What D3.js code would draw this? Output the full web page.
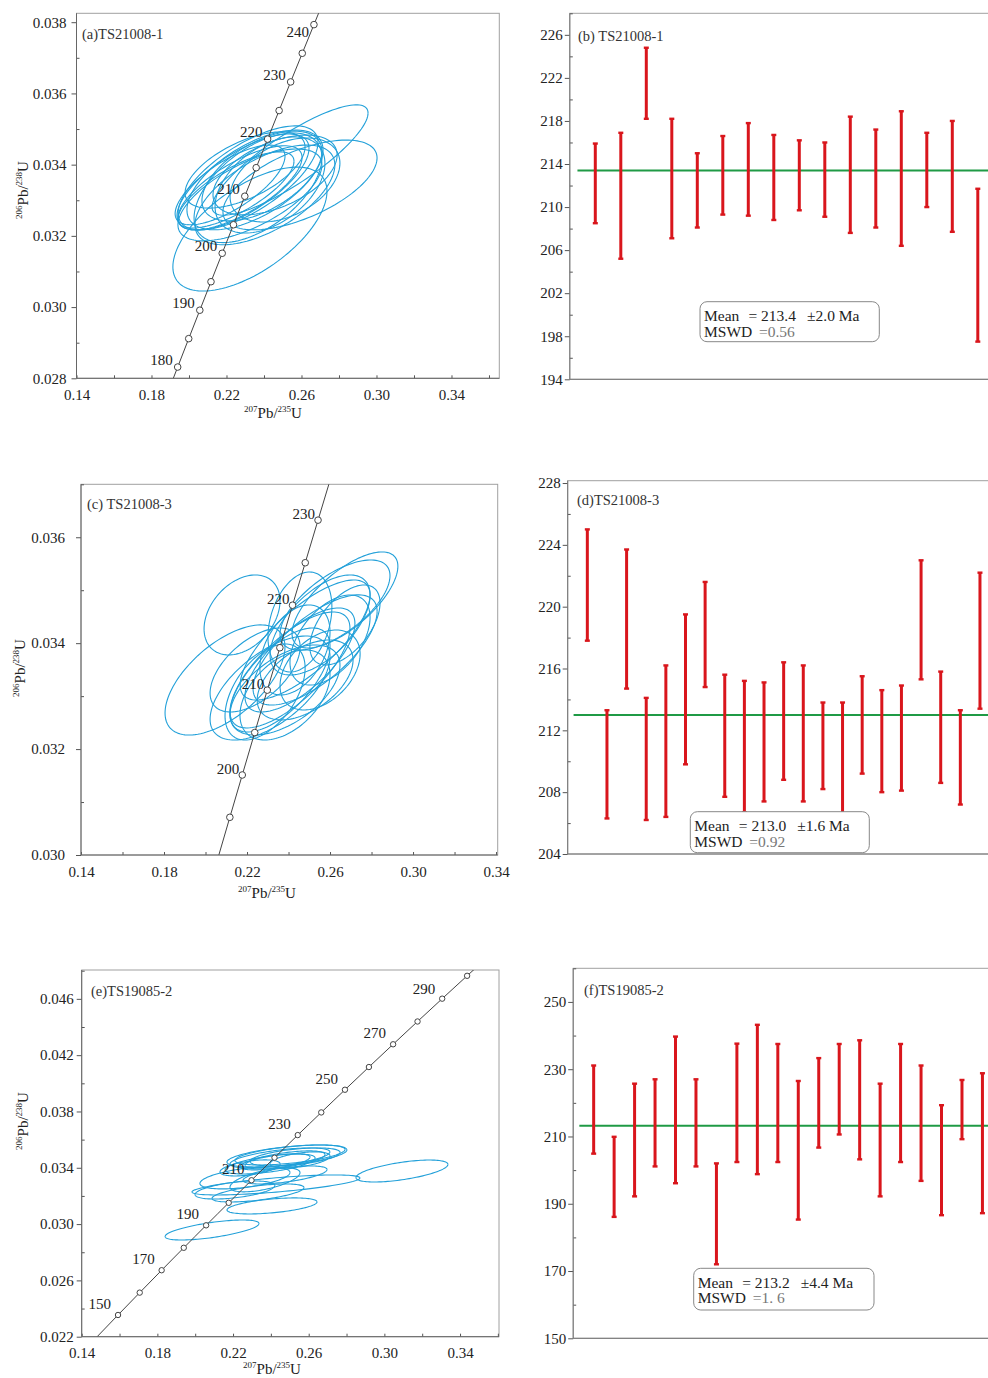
<!DOCTYPE html>
<html>
<head>
<meta charset="utf-8">
<script src="https://cdn.jsdelivr.net/npm/d3@7"></script>
<style>
  body { margin: 0; background: #fff; }
  svg { display: block; }
</style>
</head>
<body>
<svg id="chart" width="988" height="1378"></svg>
<script>
// ---------- data ----------
// concordia reference points (age in Ma, 207Pb/235U, 206Pb/238U)
const concAges = [140, 150, 160, 170, 175, 180, 185, 190, 195, 200, 205, 210, 215, 220, 225, 230, 235, 240, 245, 250, 260, 270, 280, 290, 300, 310];
const concX = [0.14784, 0.15920, 0.17067, 0.18226, 0.18809, 0.19396, 0.19985, 0.20577, 0.21173, 0.21771, 0.22372, 0.22976, 0.23583, 0.24193, 0.24806, 0.25422, 0.26041, 0.26664, 0.27289, 0.27917, 0.29183, 0.30462, 0.31753, 0.33057, 0.34374, 0.35703];
const concY = [0.021955, 0.023542, 0.025131, 0.026722, 0.027519, 0.028316, 0.029114, 0.029912, 0.030712, 0.031511, 0.032312, 0.033113, 0.033914, 0.034717, 0.035519, 0.036323, 0.037127, 0.037932, 0.038737, 0.039543, 0.041157, 0.042773, 0.044392, 0.046013, 0.047637, 0.049264];

// error ellipses: [207/235, 206/238, err 207/235, err 206/238, rho]
const ellipsesA = [
  [0.2325, 0.03219, 0.0411, 0.00174, 0.61],
  [0.2539, 0.03413, 0.0416, 0.00155, 0.85],
  [0.2592, 0.03343, 0.0411, 0.00126, 0.60],
  [0.2288, 0.03351, 0.0352, 0.00135, 0.70],
  [0.2272, 0.03335, 0.0331, 0.00118, 0.72],
  [0.2315, 0.03363, 0.0373, 0.00146, 0.68],
  [0.2251, 0.03329, 0.0309, 0.00107, 0.75],
  [0.2352, 0.03357, 0.0363, 0.00140, 0.60],
  [0.2389, 0.03368, 0.0320, 0.00126, 0.55],
  [0.2432, 0.03343, 0.0293, 0.00135, 0.45],
  [0.2459, 0.03371, 0.0331, 0.00112, 0.50],
  [0.2219, 0.03343, 0.0293, 0.00112, 0.72],
  [0.2325, 0.03315, 0.0384, 0.00129, 0.65],
  [0.2512, 0.03357, 0.0293, 0.00118, 0.40],
  [0.2368, 0.03335, 0.0341, 0.00154, 0.55],
  [0.2299, 0.03385, 0.0320, 0.00107, 0.60],
  [0.2405, 0.03315, 0.0373, 0.00140, 0.60]
];
const ellipsesC = [
  [0.2094, 0.033305, 0.0289, 0.00104, 0.60],
  [0.2176, 0.034533, 0.0183, 0.000755, 0.35],
  [0.2455, 0.034400, 0.0154, 0.000944, 0.30],
  [0.2672, 0.034816, 0.0255, 0.000907, 0.70],
  [0.2624, 0.034721, 0.0265, 0.000850, 0.65],
  [0.2552, 0.034344, 0.0241, 0.000944, 0.60],
  [0.2600, 0.034060, 0.0193, 0.000850, 0.50],
  [0.2455, 0.033683, 0.0265, 0.000982, 0.70],
  [0.2407, 0.033494, 0.0289, 0.001095, 0.72],
  [0.2359, 0.033305, 0.0241, 0.000982, 0.65],
  [0.2311, 0.033154, 0.0289, 0.000982, 0.60],
  [0.2480, 0.033305, 0.0231, 0.000755, 0.50],
  [0.2287, 0.033078, 0.0193, 0.000907, 0.50],
  [0.2528, 0.033872, 0.0299, 0.001040, 0.70],
  [0.2383, 0.033022, 0.0217, 0.000850, 0.45],
  [0.2552, 0.033494, 0.0193, 0.000755, 0.40],
  [0.2239, 0.033494, 0.0217, 0.000793, 0.55],
  [0.2431, 0.033872, 0.0169, 0.000850, 0.40],
  [0.2672, 0.034344, 0.0169, 0.000755, 0.55],
  [0.2480, 0.034060, 0.0313, 0.001133, 0.75],
  [0.2383, 0.033116, 0.0265, 0.000850, 0.55]
];
const ellipsesE = [
  [0.2089, 0.02958, 0.0248, 0.00071, 0.65],
  [0.2406, 0.03129, 0.0238, 0.00057, 0.50],
  [0.2427, 0.03278, 0.0444, 0.00071, 0.70],
  [0.3093, 0.03377, 0.0243, 0.00078, 0.60],
  [0.2332, 0.03221, 0.0243, 0.00064, 0.60],
  [0.2263, 0.03328, 0.0238, 0.00078, 0.50],
  [0.2210, 0.03242, 0.0211, 0.00064, 0.50],
  [0.2369, 0.03314, 0.0185, 0.00085, 0.60],
  [0.2448, 0.03470, 0.0264, 0.00071, 0.60],
  [0.2501, 0.03491, 0.0291, 0.00071, 0.55],
  [0.2475, 0.03456, 0.0211, 0.00064, 0.60],
  [0.2422, 0.03442, 0.0185, 0.00057, 0.60],
  [0.2528, 0.03477, 0.0238, 0.00064, 0.50],
  [0.2396, 0.03427, 0.0238, 0.00071, 0.60],
  [0.2554, 0.03456, 0.0159, 0.00057, 0.50],
  [0.2290, 0.03399, 0.0159, 0.00057, 0.50],
  [0.2485, 0.03484, 0.0317, 0.00078, 0.55],
  [0.2475, 0.03349, 0.0222, 0.00064, 0.60]
];

// weighted mean plots: low / high age of each spot (Ma)
const spotsBLo = [208.5, 205.2, 218.2, 207.1, 208.1, 209.3, 209.2, 208.8, 209.7, 209.1, 207.6, 208.1, 206.4, 210.0, 207.7, 197.5];
const spotsBHi = [215.9, 216.9, 224.8, 218.2, 215.0, 216.6, 217.8, 216.7, 216.2, 216.0, 218.4, 217.2, 218.9, 216.9, 218.0, 211.7];
const spotsDLo = [217.8, 206.3, 214.7, 206.2, 206.4, 209.8, 214.8, 207.7, 206.7, 207.4, 208.8, 207.4, 208.2, 206.4, 209.2, 208.0, 208.1, 215.3, 208.6, 207.2, 213.4];
const spotsDHi = [225.0, 213.3, 223.7, 214.1, 216.2, 219.5, 221.6, 215.6, 215.2, 215.1, 216.4, 216.2, 213.8, 213.8, 215.5, 214.6, 214.9, 223.0, 215.8, 213.3, 222.2];
const spotsFLo = [204.9, 186.1, 192.2, 201.1, 196.1, 201.1, 172.0, 202.4, 198.8, 202.4, 185.3, 206.7, 210.6, 203.2, 192.2, 202.4, 196.8, 186.6, 209.2, 187.2];
const spotsFHi = [231.1, 209.9, 225.7, 227.0, 239.7, 227.0, 202.0, 237.6, 243.2, 237.5, 226.5, 233.3, 237.5, 238.6, 225.7, 237.5, 231.1, 219.3, 226.8, 228.8];

const meanB = 213.4, errB = '2.0', mswdB = '0.56';
const meanD = 213.0, errD = '1.6', mswdD = '0.92';
const meanF = 213.2, errF = '4.4', mswdF = '1. 6';

// tick values
const concXMajor = [0.14, 0.18, 0.22, 0.26, 0.30, 0.34];
const concXMinor = [0.16, 0.20, 0.24, 0.28, 0.32, 0.36];
const yMajorA = [0.028, 0.030, 0.032, 0.034, 0.036, 0.038];
const yMinorA = [0.029, 0.031, 0.033, 0.035, 0.037];
const yMajorC = [0.030, 0.032, 0.034, 0.036];
const yMinorC = [0.031, 0.033, 0.035, 0.037];
const yMajorE = [0.022, 0.026, 0.030, 0.034, 0.038, 0.042, 0.046];
const yMinorE = [0.024, 0.028, 0.032, 0.036, 0.040, 0.044, 0.048];
const yMajorB = [194, 198, 202, 206, 210, 214, 218, 222, 226];
const yMinorB = [196, 200, 204, 208, 212, 216, 220, 224, 228];
const yMajorD = [204, 208, 212, 216, 220, 224, 228];
const yMinorD = [206, 210, 214, 218, 222, 226];
const yMajorF = [150, 170, 190, 210, 230, 250];
const yMinorF = [160, 180, 200, 220, 240, 260];

// ---------- drawing ----------
const FONT = '"Liberation Serif", "Times New Roman", serif';
const svg = d3.select('#chart');
svg.append('rect').attr('width', 988).attr('height', 1378).attr('fill', '#fff');

function styleAxis(g) {
  g.select('.domain').remove();
  g.selectAll('line').attr('stroke', '#555');
  g.selectAll('text')
    .attr('font-family', FONT)
    .attr('font-size', 15)
    .attr('fill', '#222');
}

function ratioTitle(g, cx, cy, top, bottom, rotate) {
  const t = g.append('text')
    .attr('font-family', FONT)
    .attr('fill', '#222')
    .attr('text-anchor', 'middle')
    .attr('transform', rotate ? `translate(${cx},${cy}) rotate(-90)` : `translate(${cx},${cy})`);
  t.append('tspan').attr('font-size', 9).attr('dy', -6).text(top);
  t.append('tspan').attr('font-size', 15).attr('dy', 6).text('Pb/');
  t.append('tspan').attr('font-size', 9).attr('dy', -6).text(bottom);
  t.append('tspan').attr('font-size', 15).attr('dy', 6).text('U');
}

function concordiaPanel(p) {
  const x = d3.scaleLinear().domain(p.xDomain).range([p.left, p.right]);
  const y = d3.scaleLinear().domain(p.yDomain).range([p.bottom, p.top]);
  const g = svg.append('g');

  const clipId = 'clip-' + p.id;
  g.append('clipPath').attr('id', clipId)
    .append('rect')
    .attr('x', p.left).attr('y', p.top)
    .attr('width', p.right - p.left).attr('height', p.bottom - p.top);

  // frame
  g.append('rect')
    .attr('x', p.left).attr('y', p.top)
    .attr('width', p.right - p.left).attr('height', p.bottom - p.top)
    .attr('fill', 'none').attr('stroke', '#a0a0a0');

  const plot = g.append('g').attr('clip-path', `url(#${clipId})`);

  // error ellipses
  const line = d3.line();
  const angles = d3.range(0, 361, 3).map(a => a * Math.PI / 180);
  plot.selectAll('path.ell')
    .data(p.ellipses)
    .join('path')
    .attr('class', 'ell')
    .attr('d', e => line(angles.map(t => [
      x(e[0] + e[2] * Math.cos(t)),
      y(e[1] + e[3] * (e[4] * Math.cos(t) + Math.sqrt(1 - e[4] * e[4]) * Math.sin(t)))
    ])))
    .attr('fill', 'none')
    .attr('stroke', '#22a0d9')
    .attr('stroke-width', 1.1);

  // concordia curve
  const conc = concAges.map((a, i) => ({ age: a, x: concX[i], y: concY[i] }));
  plot.append('path')
    .attr('d', d3.line().x(d => x(d.x)).y(d => y(d.y))(conc))
    .attr('fill', 'none')
    .attr('stroke', '#444')
    .attr('stroke-width', 1);

  plot.selectAll('circle.mk')
    .data(conc.filter(d => p.markers.includes(d.age)))
    .join('circle')
    .attr('class', 'mk')
    .attr('cx', d => x(d.x))
    .attr('cy', d => y(d.y))
    .attr('r', p.markerR)
    .attr('fill', '#fff')
    .attr('stroke', '#444')
    .attr('stroke-width', 1);

  g.selectAll('text.age')
    .data(conc.filter(d => p.labels.includes(d.age)))
    .join('text')
    .attr('class', 'age')
    .attr('x', d => x(d.x) + p.labelDx)
    .attr('y', d => Math.max(y(d.y) + p.labelDy, p.top + 24))
    .attr('text-anchor', 'end')
    .attr('font-family', FONT)
    .attr('font-size', 15)
    .attr('fill', '#222')
    .text(d => d.age);

  // axes
  g.append('g').attr('transform', `translate(0,${p.bottom})`)
    .call(d3.axisBottom(x).tickValues(concXMajor).tickFormat(d3.format('.2f'))
      .tickSizeInner(-3).tickSizeOuter(0).tickPadding(11))
    .call(styleAxis);
  g.append('g').attr('transform', `translate(0,${p.bottom})`)
    .call(d3.axisBottom(x).tickValues(concXMinor.filter(v => v <= p.xDomain[1])).tickFormat('')
      .tickSizeInner(-3).tickSizeOuter(0))
    .call(styleAxis);
  g.append('g').attr('transform', `translate(${p.left},0)`)
    .call(d3.axisLeft(y).tickValues(p.yMajor).tickFormat(d3.format('.3f'))
      .tickSizeInner(5).tickSizeOuter(0).tickPadding(p.yPad))
    .call(styleAxis);
  g.append('g').attr('transform', `translate(${p.left},0)`)
    .call(d3.axisLeft(y).tickValues(p.yMinor).tickFormat('')
      .tickSizeInner(-3).tickSizeOuter(0))
    .call(styleAxis);

  g.append('line')
    .attr('x1', p.left).attr('x2', p.left).attr('y1', p.top).attr('y2', p.bottom)
    .attr('stroke', '#666');
  g.append('line')
    .attr('x1', p.left).attr('x2', p.right).attr('y1', p.bottom).attr('y2', p.bottom)
    .attr('stroke', '#666');

  g.append('text')
    .attr('x', p.tag[1]).attr('y', p.tag[2])
    .attr('font-family', FONT).attr('font-size', 14.5).attr('fill', '#333')
    .text(p.tag[0]);

  ratioTitle(g, p.xTitle[0], p.xTitle[1], '207', '235', false);
  ratioTitle(g, p.yTitle[0], p.yTitle[1], '206', '238', true);
}

function meanPanel(p) {
  const n = p.lo.length;
  const x = d3.scaleLinear().domain([0, n + 1]).range([p.left, p.right]);
  const y = d3.scaleLinear().domain(p.yDomain).range([p.bottom, p.top]);
  const g = svg.append('g');

  g.append('rect')
    .attr('x', p.left).attr('y', p.top)
    .attr('width', p.right - p.left).attr('height', p.bottom - p.top)
    .attr('fill', 'none').attr('stroke', '#a0a0a0');

  g.append('line')
    .attr('x1', x(0.3)).attr('x2', x(n + 1))
    .attr('y1', y(p.mean)).attr('y2', y(p.mean))
    .attr('stroke', '#1f9a45').attr('stroke-width', 2);

  const spots = p.lo.map((lo, i) => ({ i: i + 1, lo, hi: p.hi[i] }));
  g.selectAll('line.bar')
    .data(spots)
    .join('line')
    .attr('class', 'bar')
    .attr('x1', d => x(d.i)).attr('x2', d => x(d.i))
    .attr('y1', d => y(d.lo)).attr('y2', d => y(d.hi))
    .attr('stroke', '#d9161c').attr('stroke-width', 3);
  g.selectAll('rect.cap')
    .data(spots.flatMap(d => [d.lo, d.hi].map(v => ({ i: d.i, v }))))
    .join('rect')
    .attr('class', 'cap')
    .attr('x', d => x(d.i) - 2.5).attr('y', d => y(d.v) - 1.2)
    .attr('width', 5).attr('height', 2.4)
    .attr('fill', '#d9161c');

  g.append('g').attr('transform', `translate(${p.left},0)`)
    .call(d3.axisLeft(y).tickValues(p.yMajor).tickFormat(d3.format('d'))
      .tickSizeInner(5).tickSizeOuter(0).tickPadding(2))
    .call(styleAxis);
  g.append('g').attr('transform', `translate(${p.left},0)`)
    .call(d3.axisLeft(y).tickValues(p.yMinor).tickFormat('')
      .tickSizeInner(-3).tickSizeOuter(0))
    .call(styleAxis);
  g.append('line')
    .attr('x1', p.left).attr('x2', p.left).attr('y1', p.top).attr('y2', p.bottom)
    .attr('stroke', '#777');
  g.append('line')
    .attr('x1', p.left).attr('x2', p.right).attr('y1', p.bottom).attr('y2', p.bottom)
    .attr('stroke', '#777');

  g.append('text')
    .attr('x', p.tag[1]).attr('y', p.tag[2])
    .attr('font-family', FONT).attr('font-size', 14.5).attr('fill', '#333')
    .text(p.tag[0]);

  // result box
  const b = p.box;
  g.append('rect')
    .attr('x', b[0]).attr('y', b[1]).attr('width', b[2]).attr('height', b[3])
    .attr('rx', 7).attr('fill', '#fff').attr('stroke', '#888');
  const txt = (dx, dy, s, fill) => g.append('text')
    .attr('x', b[0] + dx).attr('y', b[1] + dy)
    .attr('font-family', FONT).attr('font-size', 15.5).attr('fill', fill)
    .text(s);
  txt(4, 19.5, 'Mean', '#222');
  txt(48.5, 19.5, '= ' + p.mean.toFixed(1), '#222');
  txt(107, 19.5, '\u00B1' + p.err + ' Ma', '#222');
  txt(4, 35, 'MSWD', '#222');
  txt(59, 35, '=' + p.mswd, '#777');
}

concordiaPanel({
  id: 'a', left: 76.5, right: 499.3, top: 13.3, bottom: 378.3,
  xDomain: [0.14, 0.3655], yDomain: [0.028, 0.03825],
  yMajor: yMajorA, yMinor: yMinorA, yPad: 5,
  ellipses: ellipsesA,
  markers: [180, 185, 190, 195, 200, 205, 210, 215, 220, 225, 230, 235, 240],
  labels: [180, 190, 200, 210, 220, 230, 240],
  labelDx: -5, labelDy: -2, markerR: 3.3,
  tag: ['(a)TS21008-1', 82, 39],
  xTitle: [273, 418], yTitle: [28, 190]
});

concordiaPanel({
  id: 'c', left: 81, right: 497.7, top: 484.3, bottom: 855,
  xDomain: [0.14, 0.3408], yDomain: [0.030, 0.037],
  yMajor: yMajorC, yMinor: yMinorC, yPad: 11,
  ellipses: ellipsesC,
  markers: [195, 200, 205, 210, 215, 220, 225, 230],
  labels: [200, 210, 220, 230],
  labelDx: -3, labelDy: -1, markerR: 3.3,
  tag: ['(c) TS21008-3', 87, 508.5],
  xTitle: [267, 898], yTitle: [25, 668]
});

concordiaPanel({
  id: 'e', left: 81.7, right: 499, top: 970, bottom: 1336.7,
  xDomain: [0.14, 0.3606], yDomain: [0.022, 0.04805],
  yMajor: yMajorE, yMinor: yMinorE, yPad: 3,
  ellipses: ellipsesE,
  markers: [150, 160, 170, 180, 190, 200, 210, 220, 230, 240, 250, 260, 270, 280, 290, 300],
  labels: [150, 170, 190, 210, 230, 250, 270, 290],
  labelDx: -7, labelDy: -6, markerR: 2.7,
  tag: ['(e)TS19085-2', 91, 996],
  xTitle: [272, 1374], yTitle: [28, 1121]
});

meanPanel({
  left: 569.8, right: 1003.3, top: 13.3, bottom: 379.3,
  yDomain: [194, 228], yMajor: yMajorB, yMinor: yMinorB,
  lo: spotsBLo, hi: spotsBHi, mean: meanB, err: errB, mswd: mswdB,
  tag: ['(b) TS21008-1', 578, 41],
  box: [700, 301.7, 179.3, 40]
});

meanPanel({
  left: 567.7, right: 999.6, top: 480.7, bottom: 854,
  yDomain: [204, 228.15], yMajor: yMajorD, yMinor: yMinorD,
  lo: spotsDLo, hi: spotsDHi, mean: meanD, err: errD, mswd: mswdD,
  tag: ['(d)TS21008-3', 577, 505],
  box: [690.3, 811.7, 179, 41]
});

meanPanel({
  left: 573.2, right: 1002.9, top: 968.3, bottom: 1338.3,
  yDomain: [150, 260], yMajor: yMajorF, yMinor: yMinorF,
  lo: spotsFLo, hi: spotsFHi, mean: meanF, err: errF, mswd: mswdF,
  tag: ['(f)TS19085-2', 584, 994.5],
  box: [693.7, 1268.3, 180.3, 41.7]
});
</script>
</body>
</html>
